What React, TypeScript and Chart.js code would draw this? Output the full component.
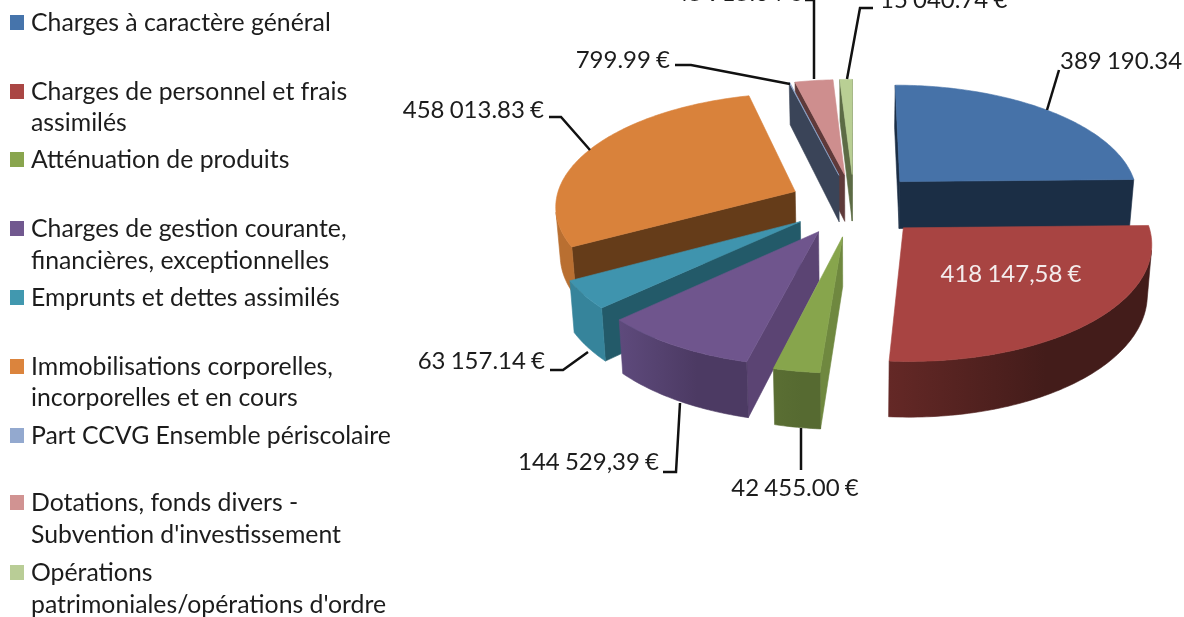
import React, { useEffect, useRef } from "react";
import { Chart, registerables } from "chart.js";

Chart.register(...registerables);

const categories = [
  "Charges à caractère général",
  "Charges de personnel et frais\nassimilés",
  "Atténuation de produits",
  "Charges de gestion courante,\nfinancières, exceptionnelles",
  "Emprunts et dettes assimilés",
  "Immobilisations corporelles,\nincorporelles et en cours",
  "Part CCVG Ensemble périscolaire",
  "Dotations, fonds divers -\nSubvention d'investissement",
  "Opérations\npatrimoniales/opérations d'ordre",
];
const values = [389190.34, 418147.58, 42455.0, 144529.39, 63157.14, 458013.83, 799.99, 45915.04, 15040.74];
const valueLabels = [
  "389 190.34 €", "418 147,58 €", "42 455.00 €", "144 529,39 €", "63 157.14 €",
  "458 013.83 €", "799.99 €", "45 915.04 €", "15 040.74 €",
];
const legendColors = ["#4674AB", "#AA4644", "#89A54E", "#71588F", "#4198AF", "#DB843D", "#93A9CF", "#D19392", "#B9CD96"];
const topColors = ["#4672A8", "#A84442", "#87A54C", "#6F558D", "#3F94AE", "#D9823B", "#93A9CF", "#CE8E8E", "#B9CF94"];
const cutColors = ["#1B2E45", "#421B18", "#6F883F", "#5B4473", "#235A69", "#653C19", "#3A4458", "#5F3A3A", "#5C6B45"];
const outerStart = ["#1B2E45", "#642826", "#5A6E33", "#5E4A7C", "#36849B", "#B96F31", "#3A4458", "#5F3A3A", "#5C6B45"];
const outerEnd = ["#1B2E45", "#431C1A", "#566A31", "#4C3A63", "#36849B", "#B96F31", "#3A4458", "#5F3A3A", "#5C6B45"];
const explode = [67, 70, 70, 68, 65, 65, 64, 64, 64];

const LEGEND_FONT = "24.8px Lato, Carlito, sans-serif";
const VALUE_FONT = "24px Lato, Carlito, sans-serif";
const TEXT = "#1c1c1c";

// Camera for the tilted, perspective pie
const view = { tilt: 0.4676, distance: 2094, depth: 48, floorShrink: 0.985 };

// Legend line centres (one entry per text line)
const legendLineY = [23, 92, 123, 160, 229, 261, 298, 367, 398, 436, 503, 535, 573, 605];
// Label layout: text anchor and leader polyline
const labelLayout = [
  { x: 1060, y: 61, align: "left", line: [[1047, 110], [1059, 70]] },
  { x: 1011, y: 274, align: "center", color: "#F4ECEC", line: [] },
  { x: 795, y: 488, align: "center", line: [[801, 428], [801, 470]] },
  { x: 659, y: 462, align: "right", line: [[680, 403], [676, 472], [663, 472]] },
  { x: 545, y: 361, align: "right", line: [[588, 352], [563, 370], [550, 370]] },
  { x: 544, y: 110, align: "right", line: [[590, 150], [561, 117], [549, 117]] },
  { x: 670, y: 60, align: "right", line: [[790, 84], [691, 65], [675, 65]] },
  { x: 802, y: -7, align: "right", line: [[814, 79], [814, 0], [805, 0]] },
  { x: 880, y: 0, align: "left", line: [[847, 79], [860, 8], [873, 8]] },
];

type P = { x: number; y: number };

const pie3d = {
  id: "pie3d",
  beforeDatasetsDraw(chart: any) {
    const ctx: CanvasRenderingContext2D = chart.ctx;
    const arcs = chart.getDatasetMeta(0).data as any[];
    const project = (cx: number, cy: number, u: number, v: number, floor: boolean): P => {
      const s = 1 / (1 - v / view.distance);
      const k = floor ? view.floorShrink : 1;
      return {
        x: cx + u * s * k,
        y: cy + view.tilt * v * s + (floor ? view.depth * s : 0),
      };
    };
    const area = (q: P[]) =>
      q.reduce((acc, p, i) => {
        const n = q[(i + 1) % q.length];
        return acc + p.x * n.y - n.x * p.y;
      }, 0);
    const fillPoly = (q: P[], color: any) => {
      ctx.beginPath();
      q.forEach((p, i) => (i ? ctx.lineTo(p.x, p.y) : ctx.moveTo(p.x, p.y)));
      ctx.closePath();
      ctx.fillStyle = color;
      ctx.strokeStyle = color;
      ctx.lineWidth = 0.6;
      ctx.fill();
      ctx.stroke();
    };
    const slices = arcs.map((el, i) => {
      const a0 = el.startAngle;
      const a1 = el.endAngle;
      const mid = (a0 + a1) / 2;
      const off = el.options.offset;
      return { i, el, a0, a1, u0: Math.cos(mid) * off, v0: Math.sin(mid) * off };
    });
    slices.sort((p, q) => p.v0 - q.v0);
    for (const { i, el, a0, a1, u0, v0 } of slices) {
      const R = el.outerRadius;
      const cx = el.x;
      const cy = el.y;
      const n = Math.max(2, Math.ceil(((a1 - a0) * 180) / Math.PI));
      const rim: { u: number; v: number }[] = [];
      for (let k = 0; k <= n; k++) {
        const a = a0 + ((a1 - a0) * k) / n;
        rim.push({ u: u0 + Math.cos(a) * R, v: v0 + Math.sin(a) * R });
      }
      const quadOf = (p: { u: number; v: number }, q: { u: number; v: number }) => [
        project(cx, cy, p.u, p.v, false),
        project(cx, cy, q.u, q.v, false),
        project(cx, cy, q.u, q.v, true),
        project(cx, cy, p.u, p.v, true),
      ];
      const apex = { u: u0, v: v0 };
      const q0 = quadOf(apex, rim[0]);
      if (area(q0) < 0) fillPoly(q0, cutColors[i]);
      const q1 = quadOf(rim[n], apex);
      if (area(q1) < 0) fillPoly(q1, cutColors[i]);
      // Outer wall: the visible run of the rim as one shape with a left-to-right shade
      const upper: P[] = [];
      const lower: P[] = [];
      for (let k = 0; k < n; k++) {
        const q = quadOf(rim[k], rim[k + 1]);
        if (area(q) < 0) {
          if (!upper.length) {
            upper.push(q[0]);
            lower.push(q[3]);
          }
          upper.push(q[1]);
          lower.push(q[2]);
        }
      }
      if (upper.length) {
        const xs = [...upper, ...lower].map((p) => p.x);
        const grad = ctx.createLinearGradient(Math.min(...xs), 0, Math.max(...xs), 0);
        grad.addColorStop(0, outerStart[i]);
        grad.addColorStop(0.6, outerEnd[i]);
        grad.addColorStop(1, outerEnd[i]);
        fillPoly([...upper, ...lower.reverse()], grad);
      }
      const top = [apex, ...rim].map((p) => project(cx, cy, p.u, p.v, false));
      fillPoly(top, topColors[i]);
    }
    return false;
  },
  afterDraw(chart: any) {
    const ctx: any = chart.ctx;
    ctx.save();
    ctx.textBaseline = "middle";
    // Leaders and value labels
    ctx.font = VALUE_FONT;
    ctx.wordSpacing = "-1px";
    valueLabels.forEach((text, i) => {
      const l: any = labelLayout[i];
      if (l.line.length) {
        ctx.beginPath();
        l.line.forEach((p: number[], k: number) => (k ? ctx.lineTo(p[0], p[1]) : ctx.moveTo(p[0], p[1])));
        ctx.strokeStyle = "#111";
        ctx.lineWidth = 2.5;
        ctx.stroke();
      }
      ctx.textAlign = l.align;
      ctx.fillStyle = l.color || TEXT;
      ctx.fillText(text, l.x, l.y);
    });
    // Legend
    ctx.wordSpacing = "0px";
    ctx.font = LEGEND_FONT;
    ctx.textAlign = "left";
    let line = 0;
    chart.data.labels.forEach((label: string, i: number) => {
      const rows = label.split("\n");
      ctx.fillStyle = legendColors[i];
      ctx.fillRect(10, legendLineY[line] - 8, 14, 15);
      ctx.fillStyle = TEXT;
      rows.forEach((row) => {
        ctx.fillText(row, 31, legendLineY[line]);
        line++;
      });
    });
    ctx.restore();
  },
};

export default function App() {
  const ref = useRef<HTMLCanvasElement>(null);
  useEffect(() => {
    const chart = new Chart(ref.current!, {
      type: "pie",
      data: {
        labels: categories,
        datasets: [{ data: values, backgroundColor: legendColors, borderWidth: 0, offset: explode, radius: 240 }],
      },
      options: {
        animation: false,
        responsive: false,
        events: [],
        layout: { padding: { left: 524, bottom: 210 } },
        plugins: { legend: { display: false }, tooltip: { enabled: false } },
      },
      plugins: [pie3d],
    } as any);
    return () => chart.destroy();
  }, []);
  return (
    <canvas
      ref={ref}
      width={1184}
      height={617}
      style={{ position: "fixed", left: 0, top: 0, width: 1184, height: 617, display: "block" }}
    />
  );
}
